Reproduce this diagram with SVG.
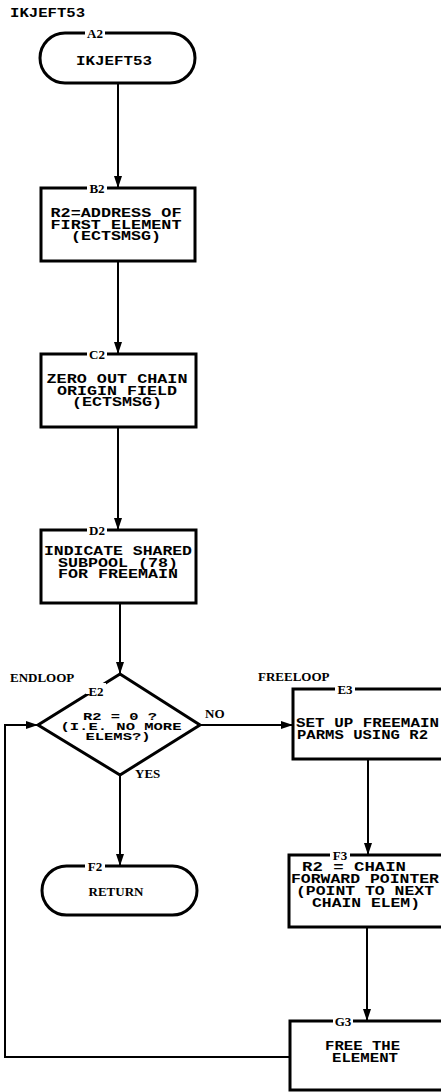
<svg xmlns="http://www.w3.org/2000/svg" width="441" height="1092" viewBox="0 0 441 1092">
<style>
.box{fill:#fff;stroke:#000;stroke-width:3}
.con{fill:none;stroke:#000;stroke-width:2}
.t{font-family:"Liberation Mono",monospace;font-weight:bold;font-size:12px;text-anchor:middle;fill:#000}
.d{font-size:11px}
.s{text-anchor:start}
.lbl{font-family:"Liberation Serif",serif;font-weight:bold;font-size:13px;fill:#000}
.nid{font-family:"Liberation Serif",serif;font-weight:bold;font-size:13px;text-anchor:middle;fill:#000}
.gap{fill:#fff}
</style>
<defs>
<marker id="ah" viewBox="0 0 12 8" refX="12" refY="4" markerWidth="12" markerHeight="8" markerUnits="userSpaceOnUse" orient="auto">
<path d="M0,0 L12,4 L0,8 z" fill="#000"/>
</marker>
</defs>
<text x="10" y="17" class="t s" textLength="75" lengthAdjust="spacingAndGlyphs">IKJEFT53</text>
<g id="connectors">
<line class="con" x1="118" y1="83" x2="118" y2="188" marker-end="url(#ah)"/>
<line class="con" x1="118" y1="261" x2="118" y2="354" marker-end="url(#ah)"/>
<line class="con" x1="118" y1="427" x2="118" y2="530" marker-end="url(#ah)"/>
<line class="con" x1="120" y1="603" x2="120" y2="674" marker-end="url(#ah)"/>
<line class="con" x1="200" y1="725" x2="293" y2="725" marker-end="url(#ah)"/>
<line class="con" x1="120" y1="775" x2="120" y2="866" marker-end="url(#ah)"/>
<line class="con" x1="368" y1="759" x2="368" y2="855" marker-end="url(#ah)"/>
<line class="con" x1="367" y1="927" x2="367" y2="1021" marker-end="url(#ah)"/>
<polyline class="con" points="290,1057 5,1057 5,725 38,725" marker-end="url(#ah)"/>
<text x="205" y="718" class="lbl">NO</text>
<text x="135" y="778" class="lbl">YES</text>
</g>
<g id="A2">
<rect class="box" x="40" y="33" width="155" height="50" rx="25"/>
<rect class="gap" x="85" y="28" width="20" height="10"/>
<text x="95" y="37.5" class="nid">A2</text>
<text x="76" y="65" class="t s" textLength="76" lengthAdjust="spacingAndGlyphs">IKJEFT53</text>
</g>
<g id="B2">
<rect class="box" x="41" y="188" width="154" height="73"/>
<rect class="gap" x="87" y="183" width="20" height="10"/>
<text x="97" y="192.5" class="nid">B2</text>
<text x="116" y="217" class="t" textLength="131" lengthAdjust="spacingAndGlyphs">R2=ADDRESS OF</text>
<text x="116" y="228.5" class="t" textLength="131" lengthAdjust="spacingAndGlyphs">FIRST ELEMENT</text>
<text x="116" y="240" class="t" textLength="90" lengthAdjust="spacingAndGlyphs">(ECTSMSG)</text>
</g>
<g id="C2">
<rect class="box" x="41" y="354" width="155" height="73"/>
<rect class="gap" x="87" y="349" width="20" height="10"/>
<text x="97" y="358.5" class="nid">C2</text>
<text x="117" y="383" class="t" textLength="141" lengthAdjust="spacingAndGlyphs">ZERO OUT CHAIN</text>
<text x="117" y="394.5" class="t" textLength="120" lengthAdjust="spacingAndGlyphs">ORIGIN FIELD</text>
<text x="117" y="406" class="t" textLength="90" lengthAdjust="spacingAndGlyphs">(ECTSMSG)</text>
</g>
<g id="D2">
<rect class="box" x="41" y="530" width="155" height="73"/>
<rect class="gap" x="87" y="525" width="20" height="10"/>
<text x="97" y="534.5" class="nid">D2</text>
<text x="118" y="555" class="t" textLength="148" lengthAdjust="spacingAndGlyphs">INDICATE SHARED</text>
<text x="118" y="566.5" class="t" textLength="120" lengthAdjust="spacingAndGlyphs">SUBPOOL (78)</text>
<text x="118" y="578" class="t" textLength="120" lengthAdjust="spacingAndGlyphs">FOR FREEMAIN</text>
</g>
<g id="E2">
<text x="10" y="682" class="lbl">ENDLOOP</text>
<polygon class="box" points="120,674 200,725 120,775 38,725"/>
<rect class="gap" x="86" y="683" width="20" height="11"/>
<text x="96" y="696" class="nid">E2</text>
<text x="120" y="720" class="t d" textLength="74" lengthAdjust="spacingAndGlyphs">R2 = 0 ?</text>
<text x="121" y="730" class="t d" textLength="121" lengthAdjust="spacingAndGlyphs">(I.E. NO MORE</text>
<text x="118" y="740" class="t d" textLength="65" lengthAdjust="spacingAndGlyphs">ELEMS?)</text>
</g>
<g id="E3">
<text x="258" y="681" class="lbl">FREELOOP</text>
<rect class="box" x="293" y="689" width="160" height="70"/>
<rect class="gap" x="335" y="684" width="20" height="10"/>
<text x="345" y="693.5" class="nid">E3</text>
<text x="296" y="727" class="t s" textLength="143" lengthAdjust="spacingAndGlyphs">SET UP FREEMAIN</text>
<text x="297" y="738.5" class="t s" textLength="131" lengthAdjust="spacingAndGlyphs">PARMS USING R2</text>
</g>
<g id="F2">
<rect class="box" x="42" y="866" width="155" height="49" rx="24.5"/>
<rect class="gap" x="85" y="861" width="20" height="10"/>
<text x="95" y="870.5" class="nid">F2</text>
<text x="116" y="896" class="lbl" style="text-anchor:middle">RETURN</text>
</g>
<g id="F3">
<rect class="box" x="289" y="855" width="160" height="72"/>
<rect class="gap" x="330" y="850" width="20" height="10"/>
<text x="340" y="859.5" class="nid">F3</text>
<text x="302" y="871" class="t s" textLength="104" lengthAdjust="spacingAndGlyphs">R2 = CHAIN</text>
<text x="291" y="883" class="t s" textLength="148" lengthAdjust="spacingAndGlyphs">FORWARD POINTER</text>
<text x="296" y="895" class="t s" textLength="138" lengthAdjust="spacingAndGlyphs">(POINT TO NEXT</text>
<text x="312" y="907" class="t s" textLength="108" lengthAdjust="spacingAndGlyphs">CHAIN ELEM)</text>
</g>
<g id="G3">
<rect class="box" x="290" y="1021" width="160" height="69"/>
<rect class="gap" x="333" y="1016" width="20" height="10"/>
<text x="343" y="1025.5" class="nid">G3</text>
<text x="325" y="1050" class="t s" textLength="75" lengthAdjust="spacingAndGlyphs">FREE THE</text>
<text x="332" y="1062" class="t s" textLength="66" lengthAdjust="spacingAndGlyphs">ELEMENT</text>
</g>
</svg>
